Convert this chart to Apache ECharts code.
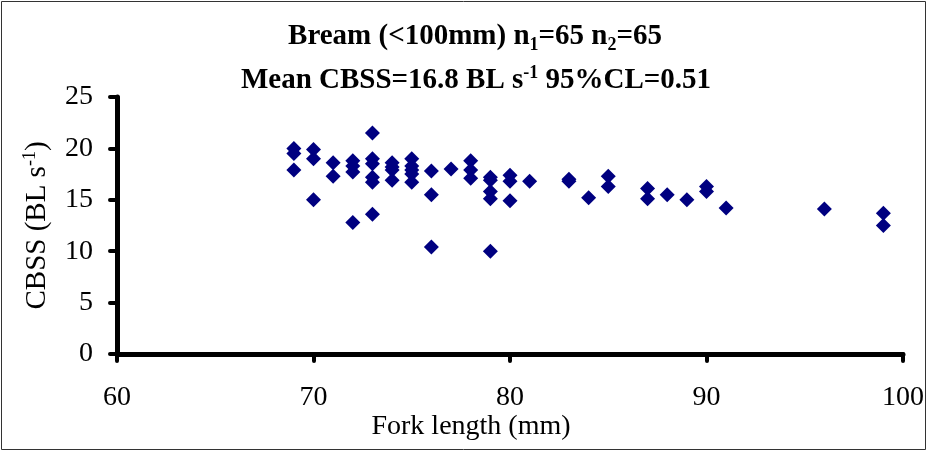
<!DOCTYPE html>
<html>
<head>
<meta charset="utf-8">
<script src="https://cdn.jsdelivr.net/npm/echarts@6/dist/echarts.min.js"></script>
<style>
html,body{margin:0;padding:0;background:#fff;}
#c{width:929px;height:452px;}
</style>
</head>
<body>
<div id="c"></div>
<script>
// Fork length (mm) of each fish
const forkLength = [
  69, 69, 69,
  70, 70, 70,
  71, 71,
  72, 72, 72, 72,
  73, 73, 73, 73, 73, 73,
  74, 74, 74, 74,
  75, 75, 75, 75, 75,
  76, 76, 76,
  77,
  78, 78, 78,
  79, 79, 79, 79, 79,
  80, 80, 80,
  81,
  83, 83,
  84,
  85, 85,
  87, 87,
  88,
  89,
  90, 90,
  91,
  96,
  99, 99
];
// CBSS (BL s-1)
const cbss = [
  20.0, 19.5, 17.9,
  19.9, 19.0, 15.0,
  18.6, 17.3,
  18.8, 18.3, 17.7, 12.8,
  21.5, 19.0, 18.5, 17.2, 16.7, 13.6,
  18.6, 18.2, 17.9, 16.9,
  19.0, 18.3, 17.9, 17.5, 16.7,
  17.8, 15.5, 10.4,
  18.0,
  18.8, 17.9, 17.1,
  17.2, 16.9, 15.8, 15.1, 10.0,
  17.4, 16.8, 14.9,
  16.8,
  17.0, 16.8,
  15.2,
  17.3, 16.3,
  16.1, 15.1,
  15.5,
  15.0,
  16.3, 15.8,
  14.2,
  14.1,
  13.7, 12.5
];
const xTicks = [60, 70, 80, 90, 100];
const yTicks = [0, 5, 10, 15, 20, 25];

const points = forkLength.map((x, i) => [x, cbss[i]]);
const serif = '"Liberation Serif", "Times New Roman", serif';

const chart = echarts.init(document.getElementById('c'), null, {renderer: 'canvas'});
chart.setOption({
  animation: false,
  backgroundColor: '#fff',
  textStyle: {fontFamily: serif},
  title: [{
    left: 470, top: 15, textAlign: 'center',
    text: '{b|Bream (<100mm) n}{sub|1}{b|=65 n}{sub|2}{b|=65}',
    textStyle: {
      rich: {
        b: {fontFamily: serif, fontWeight: 'bold', fontSize: 29, color: '#000', lineHeight: 34},
        sub: {fontFamily: serif, fontWeight: 'bold', fontSize: 18, color: '#000', lineHeight: 17, verticalAlign: 'bottom'}
      }
    }
  }, {
    left: 471, top: 59, textAlign: 'center',
    text: '{b|Mean CBSS=16.8 BL s}{sup|-1}{b| 95%CL=0.51}',
    textStyle: {
      rich: {
        b: {fontFamily: serif, fontWeight: 'bold', fontSize: 29, color: '#000', lineHeight: 34},
        sup: {fontFamily: serif, fontWeight: 'bold', fontSize: 18, color: '#000', lineHeight: 17, verticalAlign: 'top'}
      }
    }
  }],
  grid: {left: 117, right: 26, top: 97, bottom: 98, containLabel: false},
  xAxis: {
    type: 'value', min: xTicks[0], max: xTicks[xTicks.length - 1], interval: 10,
    splitLine: {show: false},
    axisLine: {show: true, onZero: false, lineStyle: {color: '#000', width: 5, cap: 'round'}},
    axisTick: {show: true, length: 7, lineStyle: {color: '#000', width: 4, cap: 'round'}},
    axisLabel: {color: '#000', fontSize: 28, fontFamily: serif, margin: 30}
  },
  yAxis: {
    type: 'value', min: yTicks[0], max: yTicks[yTicks.length - 1], interval: 5,
    splitLine: {show: false},
    axisLine: {show: true, onZero: false, lineStyle: {color: '#000', width: 5, cap: 'round'}},
    axisTick: {show: true, length: 7, lineStyle: {color: '#000', width: 4, cap: 'round'}},
    axisLabel: {color: '#000', fontSize: 28, fontFamily: serif, margin: 24},
    name: '{n|CBSS (BL s}{sup|-1}{n|)}',
    nameLocation: 'middle', nameRotate: 90, nameGap: 64,
    nameTextStyle: {
      rich: {
        n: {fontFamily: serif, fontSize: 29, color: '#000', lineHeight: 32},
        sup: {fontFamily: serif, fontSize: 18, color: '#000', lineHeight: 18, verticalAlign: 'top'}
      }
    }
  },
  graphic: [{
    type: 'rect', silent: true, z: -1,
    shape: {x: 1.5, y: 1.5, width: 924, height: 448},
    style: {fill: 'none', stroke: '#333', lineWidth: 1}
  }, {
    type: 'text', silent: true,
    x: 471, y: 413,
    style: {text: 'Fork length (mm)', fontFamily: serif, fontSize: 28, fill: '#000', align: 'center', verticalAlign: 'top'}
  }],
  series: [{
    type: 'scatter',
    data: points,
    symbol: 'diamond',
    symbolSize: 15,
    itemStyle: {color: '#000080', opacity: 1}
  }]
});
</script>
</body>
</html>
